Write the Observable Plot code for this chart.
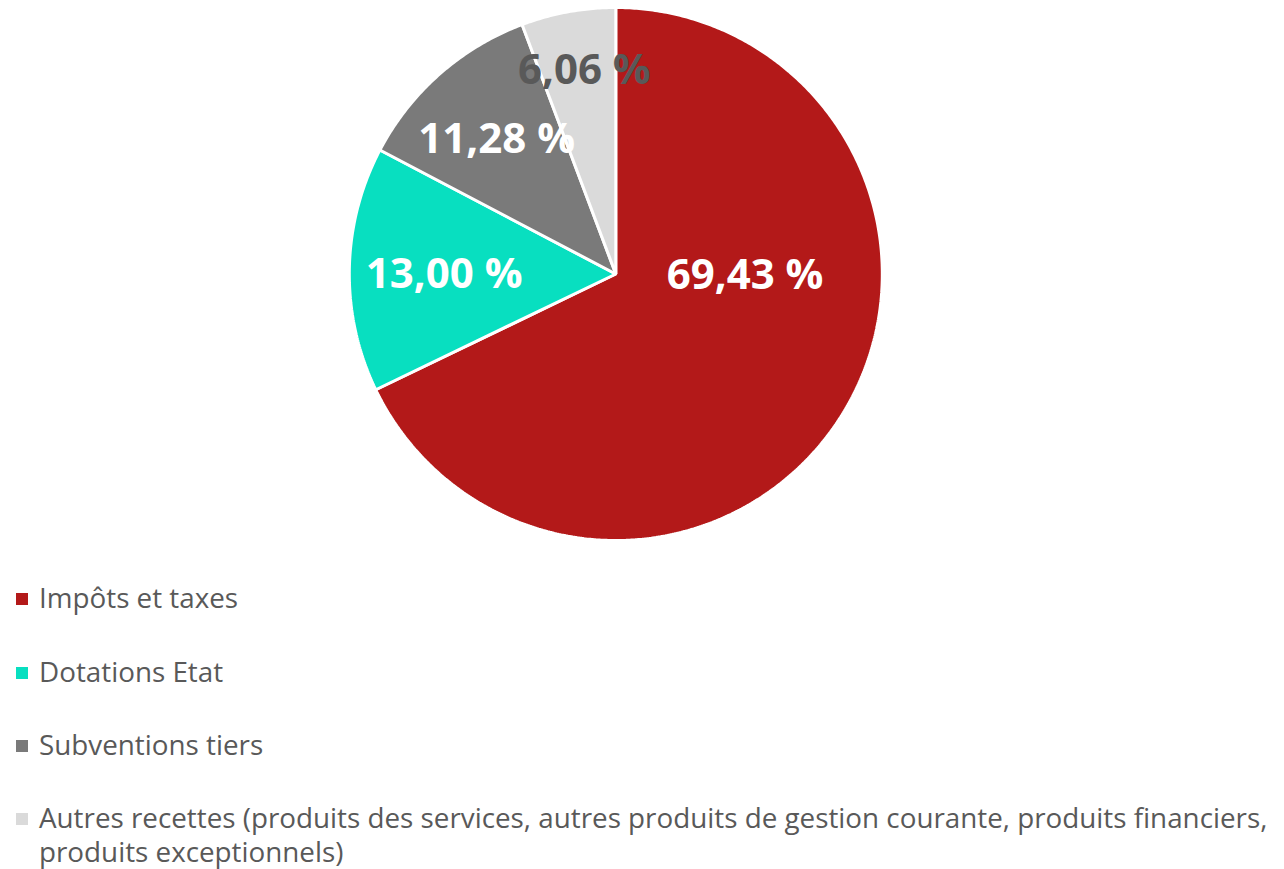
<!DOCTYPE html>
<html>
<head>
<meta charset="utf-8">
<script src="https://cdn.jsdelivr.net/npm/d3@7"></script>
<script src="https://cdn.jsdelivr.net/npm/@observablehq/plot@0.6"></script>
<style>
  html, body { margin: 0; padding: 0; background: #ffffff; }
  body { width: 1284px; height: 869px; position: relative; overflow: hidden; font-family: "Open Sans", sans-serif; }
  #chart { position: absolute; left: 0; top: 0; }
  #legend { position: absolute; left: 0; top: 580.3px; width: 1284px; }
  .item { position: relative; margin-bottom: 39.3px; }
  .swatch { position: absolute; left: 16px; top: 13.2px; width: 12px; height: 12px; }
  .txt { margin-left: 39px; width: 1242px; font-size: 27.8px; line-height: 34px; color: #595959; }
</style>
</head>
<body>
<div id="chart"></div>
<div id="legend"></div>
<script>
// ---- data ----
const categories = [
  "Impôts et taxes",
  "Dotations Etat",
  "Subventions tiers",
  "Autres recettes (produits des services, autres produits de gestion courante, produits financiers, produits exceptionnels)"
];
// slice sizes as drawn in the picture (angular share, %)
const sliceValues = [67.85, 14.85, 11.58, 5.72];
// data labels as printed on the chart
const valueLabels = ["69,43 %", "13,00 %", "11,28 %", "6,06 %"];
const colors = ["#B31919", "#08DFC0", "#7A7A7A", "#DADADA"];
const labelColors = ["#FFFFFF", "#FFFFFF", "#FFFFFF", "#595959"];

// ---- layout ----
const W = 1284, H = 556;
const cx = 615.3, cy = 273.5, R = 266.5;
// label placement (polar, degrees clockwise from 12 o'clock, radius fraction)
const labelAngles = [90.8, 269.8, 318.5, 351.2];
const labelRadii = [0.485, 0.644, 0.675, 0.772];

const rows = categories.map((c, i) => ({cat: c, value: sliceValues[i]}));
const arcs = d3.pie().sort(null).value(d => d.value)(rows);

const pts = [];
arcs.forEach(a => {
  pts.push({cat: a.data.cat, x: 0, y: 0});
  const n = Math.max(2, Math.ceil((a.endAngle - a.startAngle) / (Math.PI / 360)));
  for (let k = 0; k <= n; k++) {
    const t = a.startAngle + (a.endAngle - a.startAngle) * k / n;
    pts.push({cat: a.data.cat, x: R * Math.sin(t), y: -R * Math.cos(t)});
  }
});

const labelData = arcs.map((a, i) => {
  const t = labelAngles[i] * Math.PI / 180;
  const r = R * labelRadii[i];
  return {label: valueLabels[i], x: r * Math.sin(t), y: -r * Math.cos(t), color: labelColors[i]};
});

const chart = Plot.plot({
  width: W,
  height: H,
  margin: 0,
  style: {background: "transparent", fontFamily: "Open Sans, sans-serif"},
  x: {domain: [-cx, W - cx], range: [0, W], axis: null},
  y: {domain: [-cy, H - cy], range: [0, H], axis: null},
  color: {domain: categories, range: colors},
  marks: [
    Plot.line(pts, {x: "x", y: "y", z: "cat", fill: "cat", stroke: "#FFFFFF", strokeWidth: 3, strokeLinejoin: "miter", curve: "linear-closed"}),
    Plot.text(labelData, {x: "x", y: "y", text: "label", fill: d => d.color, fontSize: 42, fontWeight: "bold", textAnchor: "middle", lineAnchor: "middle"})
  ]
});
document.getElementById("chart").appendChild(chart);

const legend = document.getElementById("legend");
categories.forEach((c, i) => {
  const item = document.createElement("div");
  item.className = "item";
  const sw = document.createElement("div");
  sw.className = "swatch";
  sw.style.background = colors[i];
  const tx = document.createElement("div");
  tx.className = "txt";
  tx.textContent = c;
  item.appendChild(sw);
  item.appendChild(tx);
  legend.appendChild(item);
});
</script>
</body>
</html>
